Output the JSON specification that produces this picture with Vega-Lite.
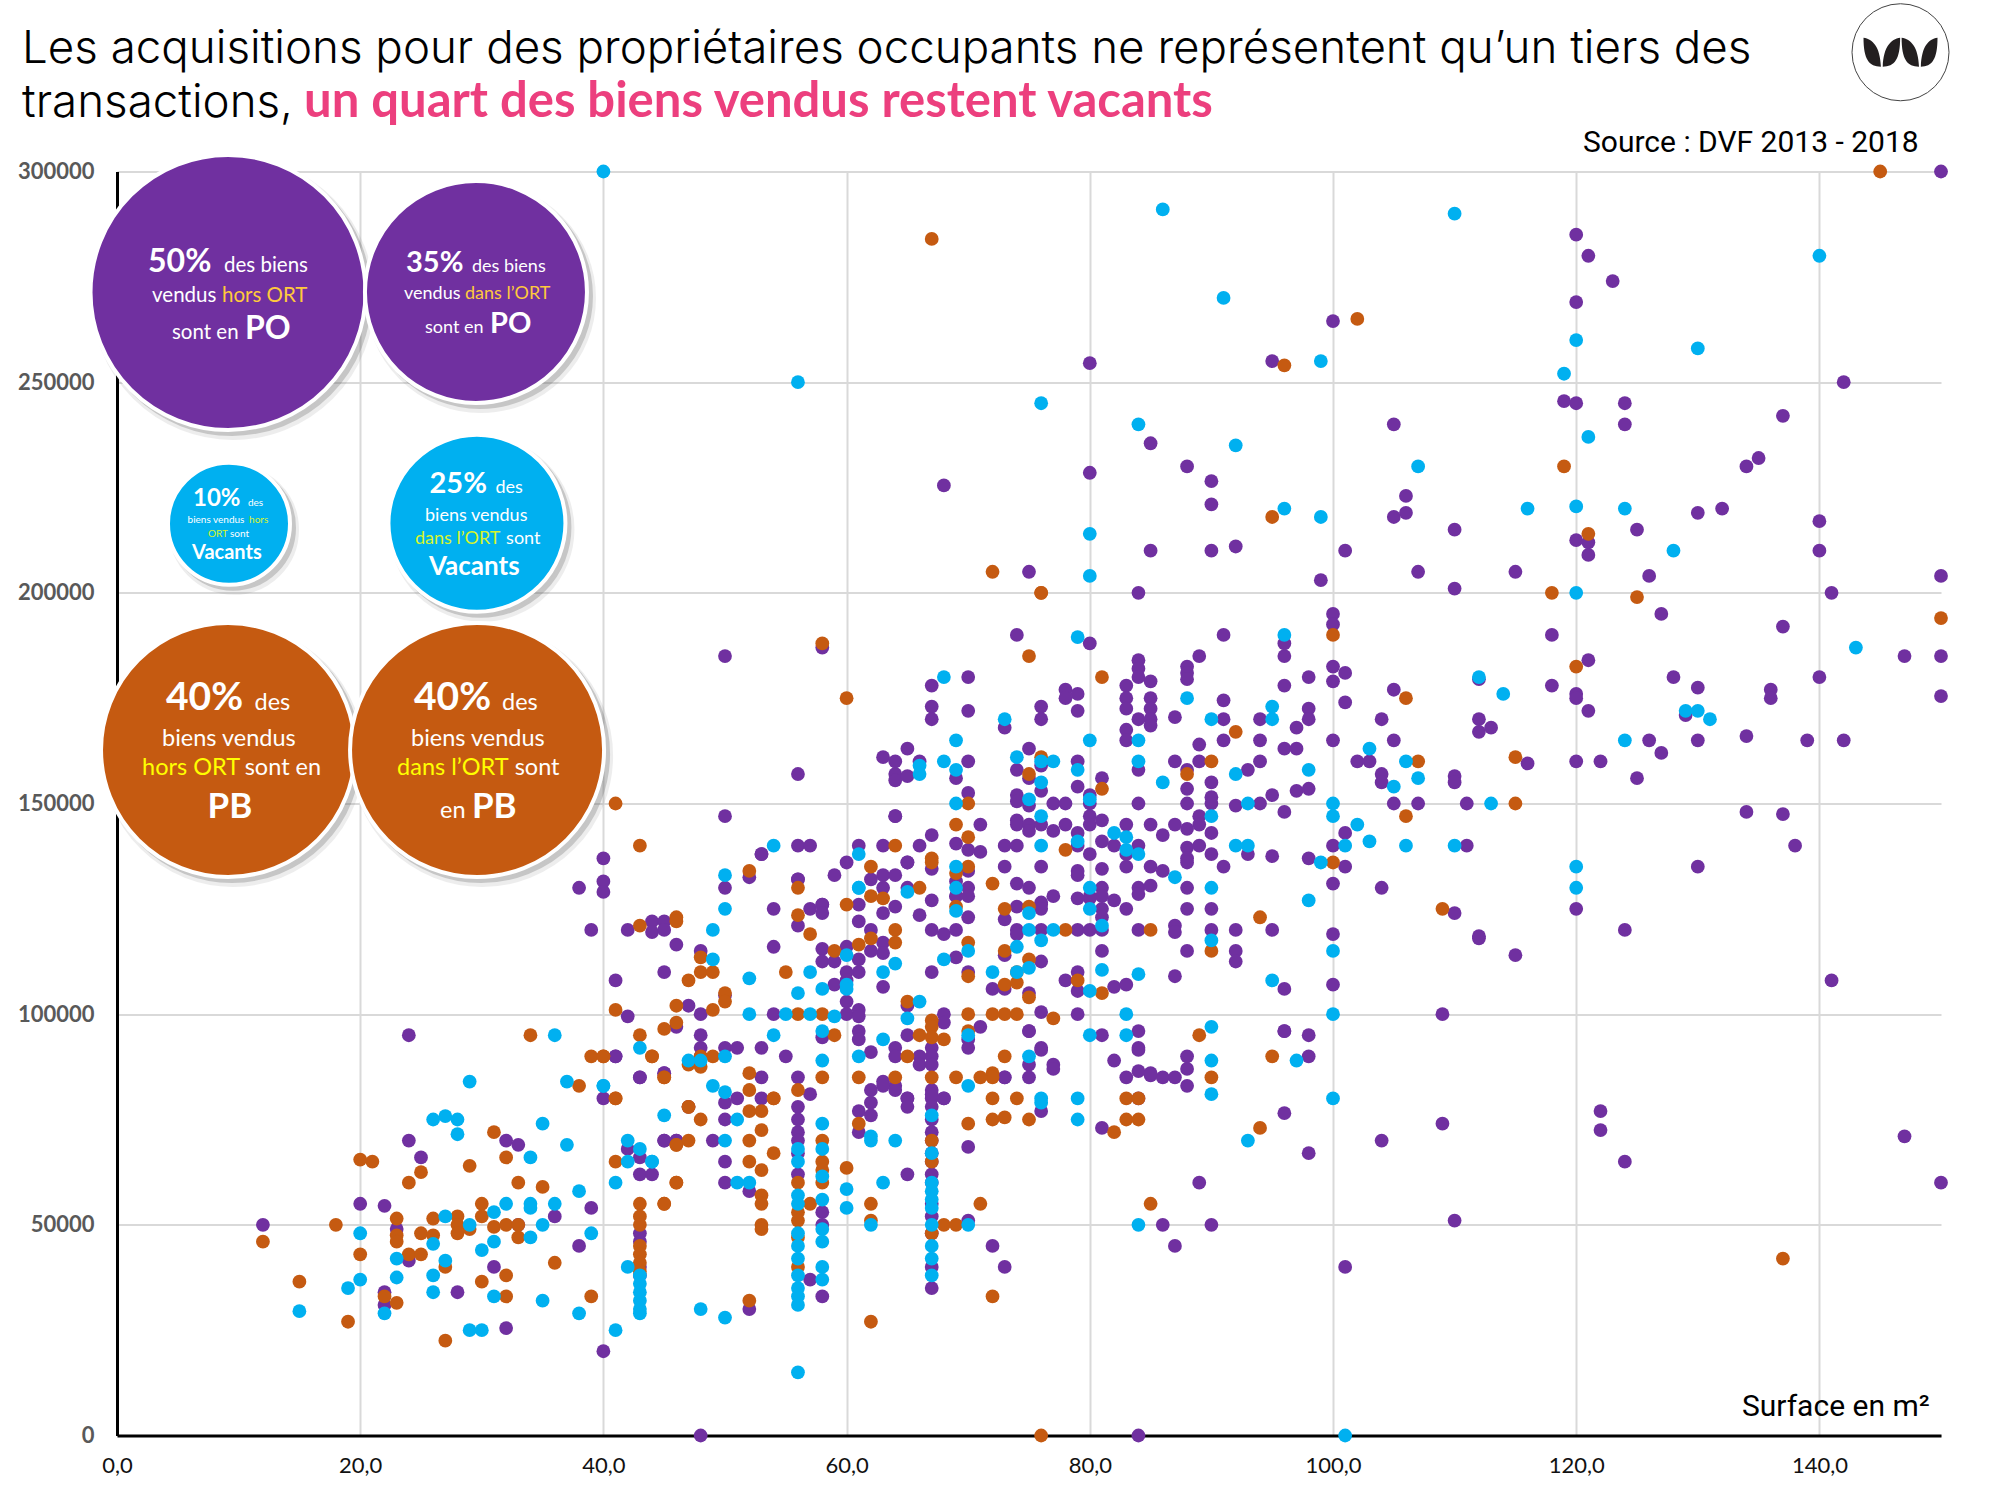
{"$schema":"https://vega.github.io/schema/vega-lite/v6.json","width":1824,"height":1264,"autosize":"none","padding":{"left":117,"top":171.5,"right":59,"bottom":64.5},"background":"white",
"datasets":{
"po":[{"x":74,"y":190000},{"x":80,"y":188000},{"x":58,"y":187000},{"x":70,"y":180000},{"x":67,"y":178000},{"x":67,"y":173000},{"x":67,"y":170000},{"x":70,"y":172000},{"x":78,"y":177000},{"x":78,"y":175000},{"x":79,"y":176000},{"x":79,"y":172000},{"x":76,"y":173000},{"x":76,"y":170000},{"x":73,"y":168000},{"x":84,"y":184000},{"x":84,"y":182000},{"x":84,"y":180000},{"x":83,"y":178000},{"x":83,"y":175000},{"x":83,"y":172500},{"x":84,"y":170000},{"x":83,"y":167500},{"x":83,"y":165000},{"x":85,"y":175000},{"x":85,"y":179000},{"x":85,"y":172500},{"x":85,"y":170000},{"x":85,"y":168500},{"x":75,"y":163000},{"x":63,"y":161000},{"x":64,"y":160000},{"x":65,"y":163000},{"x":66,"y":160000},{"x":64,"y":157000},{"x":64,"y":155500},{"x":65,"y":156500},{"x":70,"y":160000},{"x":69,"y":156000},{"x":74,"y":158000},{"x":75,"y":156000},{"x":76,"y":159000},{"x":76,"y":153000},{"x":79,"y":160000},{"x":81,"y":156000},{"x":79,"y":154000},{"x":70,"y":152500},{"x":74,"y":152000},{"x":74,"y":150500},{"x":75,"y":149500},{"x":77,"y":150000},{"x":78,"y":150000},{"x":80,"y":152000},{"x":80,"y":150000},{"x":84,"y":158000},{"x":84,"y":150000},{"x":56,"y":157000},{"x":64,"y":147000},{"x":71,"y":145000},{"x":74,"y":146000},{"x":74,"y":145000},{"x":75,"y":145000},{"x":75,"y":143500},{"x":76,"y":145000},{"x":77,"y":143500},{"x":78,"y":145000},{"x":80,"y":147000},{"x":80,"y":145000},{"x":81,"y":146000},{"x":79,"y":143000},{"x":79,"y":140000},{"x":81,"y":141000},{"x":83,"y":145000},{"x":82,"y":140000},{"x":84,"y":140000},{"x":85,"y":145000},{"x":67,"y":142500},{"x":69,"y":140500},{"x":70,"y":139000},{"x":71,"y":138500},{"x":73,"y":140000},{"x":74,"y":140000},{"x":53,"y":138000},{"x":56,"y":140000},{"x":57,"y":140000},{"x":61,"y":140000},{"x":63,"y":140000},{"x":66,"y":140000},{"x":80,"y":138000},{"x":83,"y":138000},{"x":60,"y":136000},{"x":65,"y":136000},{"x":67,"y":134500},{"x":70,"y":134000},{"x":73,"y":135000},{"x":76,"y":135000},{"x":79,"y":134000},{"x":79,"y":133000},{"x":81,"y":134500},{"x":83,"y":135000},{"x":85,"y":135000},{"x":59,"y":133000},{"x":62,"y":132000},{"x":63,"y":133000},{"x":63,"y":130000},{"x":64,"y":133000},{"x":56,"y":132000},{"x":74,"y":131000},{"x":75,"y":130000},{"x":70,"y":130000},{"x":69,"y":131500},{"x":81,"y":130000},{"x":84,"y":130000},{"x":85,"y":130500},{"x":65,"y":130000},{"x":80,"y":128000},{"x":77,"y":128000},{"x":76,"y":126500},{"x":82,"y":127000},{"x":67,"y":127000},{"x":69,"y":128000},{"x":70,"y":128000},{"x":58,"y":126000},{"x":61,"y":126000},
{"x":89,"y":185000},{"x":96,"y":185000},{"x":88,"y":182500},{"x":88,"y":181000},{"x":88,"y":179500},{"x":100,"y":182500},{"x":101,"y":181000},{"x":100,"y":179000},{"x":96,"y":178000},{"x":98,"y":180000},{"x":87,"y":170500},{"x":91,"y":174500},{"x":91,"y":170000},{"x":94,"y":170000},{"x":98,"y":172500},{"x":98,"y":170000},{"x":97,"y":168000},{"x":101,"y":174000},{"x":105,"y":177000},{"x":104,"y":170000},{"x":105,"y":165000},{"x":112,"y":179500},{"x":112,"y":170000},{"x":112,"y":167000},{"x":113,"y":168000},{"x":91,"y":165000},{"x":94,"y":165000},{"x":100,"y":165000},{"x":89,"y":164000},{"x":96,"y":163000},{"x":97,"y":163000},{"x":87,"y":160000},{"x":89,"y":160000},{"x":94,"y":160000},{"x":93,"y":158000},{"x":88,"y":158000},{"x":102,"y":160000},{"x":103,"y":160000},{"x":104,"y":157000},{"x":104,"y":155000},{"x":110,"y":156500},{"x":110,"y":155000},{"x":90,"y":155000},{"x":88,"y":153500},{"x":90,"y":151500},{"x":90,"y":150000},{"x":88,"y":150000},{"x":92,"y":149500},{"x":94,"y":150000},{"x":95,"y":152000},{"x":97,"y":153000},{"x":98,"y":153500},{"x":96,"y":148000},{"x":105,"y":150000},{"x":107,"y":150000},{"x":111,"y":150000},{"x":89,"y":147000},{"x":89,"y":145000},{"x":87,"y":145000},{"x":88,"y":144000},{"x":90,"y":143000},{"x":86,"y":142500},{"x":101,"y":143000},{"x":100,"y":140000},{"x":111,"y":140000},{"x":88,"y":139500},{"x":89,"y":140000},{"x":90,"y":138000},{"x":93,"y":138000},{"x":95,"y":137500},{"x":98,"y":137000},{"x":88,"y":137000},{"x":88,"y":136000},{"x":86,"y":134000},{"x":91,"y":135000},{"x":101,"y":135000},{"x":100,"y":131000},{"x":104,"y":130000},{"x":88,"y":130000},{"x":84,"y":128500},{"x":81,"y":128000},{"x":80,"y":127500},{"x":79,"y":127500},{"x":81,"y":125000},{"x":81,"y":123000},{"x":83,"y":125000},{"x":76,"y":126000},{"x":76,"y":125000},{"x":74,"y":125500},{"x":88,"y":125000},{"x":90,"y":125000},{"x":87,"y":121000},{"x":87,"y":119500},{"x":90,"y":120000},{"x":92,"y":120000},{"x":95,"y":120000},{"x":100,"y":119000},{"x":112,"y":118500},{"x":84,"y":120000},{"x":79,"y":120000},{"x":80,"y":120000},{"x":81,"y":120000},{"x":76,"y":120000},{"x":74,"y":120000},{"x":74,"y":119000},{"x":73,"y":122500},{"x":81,"y":115000},{"x":88,"y":115000},{"x":92,"y":115000},{"x":92,"y":112500},{"x":76,"y":112500},{"x":73,"y":114000},{"x":79,"y":110000},{"x":79,"y":105500},{"x":78,"y":108000},{"x":87,"y":109000},{"x":82,"y":106500},{"x":83,"y":107000},{"x":96,"y":106000},{"x":100,"y":107000},{"x":75,"y":105000},{"x":76,"y":100500},{"x":79,"y":100000},{"x":109,"y":100000},{"x":75,"y":96000},{"x":81,"y":95000},{"x":84,"y":96000},{"x":96,"y":96000},{"x":98,"y":95000},{"x":76,"y":92000},{"x":84,"y":92000},
{"x":105,"y":240000},{"x":85,"y":235500},{"x":88,"y":230000},{"x":90,"y":226500},{"x":90,"y":221000},{"x":106,"y":223000},{"x":106,"y":219000},{"x":105,"y":218000},{"x":110,"y":215000},{"x":80,"y":228500},{"x":85,"y":210000},{"x":90,"y":210000},{"x":92,"y":211000},{"x":101,"y":210000},{"x":99,"y":203000},{"x":107,"y":205000},{"x":110,"y":201000},{"x":75,"y":205000},{"x":84,"y":200000},{"x":100,"y":195000},{"x":100,"y":192500},{"x":91,"y":190000},{"x":96,"y":188000},{"x":119,"y":245500},{"x":120,"y":245000},{"x":124,"y":245000},{"x":124,"y":240000},{"x":137,"y":242000},{"x":135,"y":232000},{"x":134,"y":230000},{"x":132,"y":220000},{"x":130,"y":219000},{"x":140,"y":217000},{"x":120,"y":212500},{"x":121,"y":212000},{"x":121,"y":209000},{"x":125,"y":215000},{"x":140,"y":210000},{"x":115,"y":205000},{"x":126,"y":204000},{"x":150,"y":204000},{"x":141,"y":200000},{"x":127,"y":195000},{"x":137,"y":192000},{"x":118,"y":190000},{"x":121,"y":184000},{"x":128,"y":180000},{"x":140,"y":180000},{"x":118,"y":178000},{"x":130,"y":177500},{"x":120,"y":176000},{"x":120,"y":175000},{"x":136,"y":177000},{"x":136,"y":175000},{"x":121,"y":172000},{"x":150,"y":185000},{"x":147,"y":185000},{"x":150,"y":175500},{"x":129,"y":171000},{"x":134,"y":166000},{"x":130,"y":165000},{"x":126,"y":165000},{"x":139,"y":165000},{"x":142,"y":165000},{"x":127,"y":162000},{"x":116,"y":159500},{"x":120,"y":160000},{"x":122,"y":160000},{"x":125,"y":156000},{"x":134,"y":148000},{"x":137,"y":147500},{"x":138,"y":140000},{"x":130,"y":135000},
{"x":96,"y":96000},{"x":84,"y":91500},{"x":82,"y":89000},{"x":88,"y":90000},{"x":88,"y":87000},{"x":88,"y":83000},{"x":83,"y":85000},{"x":84,"y":86500},{"x":85,"y":85500},{"x":86,"y":85000},{"x":84,"y":80000},{"x":81,"y":73000},{"x":98,"y":90000},{"x":96,"y":76500},{"x":98,"y":67000},{"x":109,"y":74000},{"x":104,"y":70000},{"x":89,"y":60000},{"x":86,"y":50000},{"x":90,"y":50000},{"x":87,"y":45000},{"x":101,"y":40000},{"x":110,"y":51000},
{"x":150,"y":300000},{"x":120,"y":285000},{"x":121,"y":280000},{"x":123,"y":274000},{"x":120,"y":269000},{"x":100,"y":264500},{"x":80,"y":254500},{"x":95,"y":255000},{"x":142,"y":250000},{"x":68,"y":225500},{"x":141,"y":108000},{"x":122,"y":77000},{"x":122,"y":72500},{"x":124,"y":65000},{"x":150,"y":60000},{"x":147,"y":71000},{"x":115,"y":114000},{"x":112,"y":118000},{"x":110,"y":124000},{"x":120,"y":125000},{"x":124,"y":120000},{"x":50,"y":185000},{"x":40,"y":20000},{"x":24,"y":95000},
{"x":50,"y":147000},{"x":40,"y":137000},{"x":40,"y":131500},{"x":40,"y":129000},{"x":38,"y":130000},{"x":39,"y":120000},{"x":64,"y":147000},{"x":53,"y":138000},{"x":65,"y":136000},{"x":52,"y":132500},{"x":56,"y":132000},{"x":50,"y":130000},{"x":69,"y":128000},{"x":54,"y":125000},{"x":57,"y":125000},{"x":58,"y":126000},{"x":58,"y":124000},{"x":64,"y":125500},{"x":63,"y":124000},{"x":66,"y":123500},{"x":70,"y":123000},{"x":44,"y":122000},{"x":44,"y":119500},{"x":45,"y":122000},{"x":45,"y":120000},{"x":42,"y":120000},{"x":56,"y":121000},{"x":61,"y":122000},{"x":62,"y":120000},{"x":63,"y":117000},{"x":63,"y":114500},{"x":67,"y":120000},{"x":68,"y":119000},{"x":69,"y":120000},{"x":46,"y":116500},{"x":48,"y":115000},{"x":54,"y":116000},{"x":58,"y":115500},{"x":58,"y":112500},{"x":59,"y":112500},{"x":60,"y":116000},{"x":61,"y":113000},{"x":61,"y":110000},{"x":62,"y":115000},{"x":69,"y":113500},{"x":70,"y":110000},{"x":67,"y":110000},{"x":45,"y":110000},{"x":41,"y":108000},{"x":60,"y":110000},{"x":60,"y":108000},{"x":59,"y":107000},{"x":63,"y":106500},{"x":72,"y":106000},{"x":73,"y":106000},{"x":47,"y":102000},{"x":48,"y":100000},{"x":42,"y":99500},{"x":50,"y":104500},{"x":60,"y":103000},{"x":60,"y":100000},{"x":61,"y":101000},{"x":61,"y":99500},{"x":54,"y":100000},{"x":68,"y":100000},{"x":68,"y":98000},{"x":65,"y":102000},{"x":46,"y":97000},{"x":48,"y":95000},{"x":61,"y":96000},{"x":61,"y":94000},{"x":58,"y":94500},{"x":65,"y":95000},{"x":71,"y":97000},{"x":75,"y":96000},{"x":48,"y":92000},{"x":50,"y":92000},{"x":51,"y":92000},{"x":53,"y":92000},{"x":62,"y":91000},{"x":64,"y":92000},{"x":67,"y":92000},{"x":67,"y":90000},{"x":66,"y":90000},{"x":70,"y":94000},{"x":70,"y":92000},{"x":76,"y":91500},{"x":41,"y":90000},{"x":55,"y":90000},{"x":48,"y":90000},{"x":75,"y":88000},{"x":77,"y":88000},{"x":43,"y":85000},{"x":45,"y":86000},{"x":53,"y":85000},{"x":56,"y":85000},{"x":63,"y":84000},{"x":64,"y":83000},{"x":73,"y":85000},{"x":62,"y":82000},{"x":57,"y":81000},{"x":65,"y":80000},{"x":67,"y":82000},{"x":67,"y":80000},{"x":68,"y":80000},
{"x":50,"y":79000},{"x":51,"y":80000},{"x":53,"y":80000},{"x":56,"y":78000},{"x":47,"y":78000},{"x":50,"y":75000},{"x":45,"y":70000},{"x":46,"y":70000},{"x":49,"y":70000},{"x":50,"y":65000},{"x":56,"y":72000},{"x":56,"y":70000},{"x":43,"y":62000},{"x":44,"y":62000},{"x":50,"y":60000},{"x":52,"y":58000},{"x":56,"y":62000},{"x":56,"y":67000},{"x":56,"y":75000},{"x":58,"y":53000},{"x":58,"y":50000},{"x":57,"y":37000},{"x":58,"y":33000},{"x":52,"y":30000},{"x":48,"y":0},{"x":84,"y":0},{"x":61,"y":77000},{"x":62,"y":76000},{"x":61,"y":72000},{"x":62,"y":79000},{"x":63,"y":83000},{"x":64,"y":82000},{"x":65,"y":80000},{"x":65,"y":78000},{"x":65,"y":62000},{"x":67,"y":81000},{"x":67,"y":78000},{"x":67,"y":75000},{"x":67,"y":72000},{"x":67,"y":70000},{"x":67,"y":67000},{"x":67,"y":65000},{"x":67,"y":62000},{"x":67,"y":60000},{"x":67,"y":55000},{"x":67,"y":52000},{"x":67,"y":48000},{"x":68,"y":80000},{"x":64,"y":90000},{"x":66,"y":88000},{"x":67,"y":88000},{"x":70,"y":68500},{"x":70,"y":51000},{"x":72,"y":45000},{"x":73,"y":40000},{"x":67,"y":40000},{"x":67,"y":35000},{"x":73,"y":85000},{"x":76,"y":77000},{"x":75,"y":85000},{"x":77,"y":87000},{"x":85,"y":86000},{"x":87,"y":85000},
{"x":12,"y":50000},{"x":20,"y":55000},{"x":22,"y":54500},{"x":23,"y":49000},{"x":24,"y":70000},{"x":25,"y":66000},{"x":32,"y":70000},{"x":33,"y":69000},{"x":31,"y":40000},{"x":28,"y":34000},{"x":32,"y":25500},{"x":39,"y":54000},{"x":36,"y":52000},{"x":38,"y":45000},{"x":22,"y":34000},{"x":22,"y":31000},{"x":24,"y":41500},{"x":40,"y":80000},{"x":41,"y":90000},{"x":43,"y":85000},{"x":45,"y":86000},{"x":42,"y":68000},{"x":43,"y":66000},{"x":45,"y":70000},{"x":46,"y":70000},{"x":33,"y":50000},{"x":43,"y":48000},{"x":43,"y":46000},{"x":43,"y":40000},{"x":43,"y":38000}],
"pb":[{"x":145,"y":300000},{"x":67,"y":284000},{"x":102,"y":265000},{"x":96,"y":254000},{"x":72,"y":205000},{"x":76,"y":200000},{"x":75,"y":185000},{"x":58,"y":188000},{"x":60,"y":175000},{"x":81,"y":180000},{"x":76,"y":161000},{"x":75,"y":157000},{"x":81,"y":153500},{"x":70,"y":150000},{"x":69,"y":145000},{"x":70,"y":142000},{"x":64,"y":140000},{"x":78,"y":139000},{"x":62,"y":135000},{"x":67,"y":137000},{"x":67,"y":136000},{"x":70,"y":135000},{"x":69,"y":133500},{"x":56,"y":130000},{"x":66,"y":130000},{"x":72,"y":131000},{"x":52,"y":134000},{"x":62,"y":128000},{"x":63,"y":127500},{"x":60,"y":126000},{"x":106,"y":175000},{"x":92,"y":167000},{"x":90,"y":160000},{"x":88,"y":157000},{"x":107,"y":160000},{"x":106,"y":147000},{"x":100,"y":136000},{"x":109,"y":125000},{"x":94,"y":123000},{"x":73,"y":125000},{"x":75,"y":125500},{"x":78,"y":120000},{"x":85,"y":120000},{"x":73,"y":115000},{"x":75,"y":113000},{"x":90,"y":115000},{"x":74,"y":110000},{"x":79,"y":108000},{"x":73,"y":107000},{"x":74,"y":107500},{"x":81,"y":105000},{"x":75,"y":104000},{"x":73,"y":100000},{"x":74,"y":100000},{"x":77,"y":99000},{"x":89,"y":95000},{"x":95,"y":218000},{"x":76,"y":200000},{"x":100,"y":190000},{"x":119,"y":230000},{"x":121,"y":214000},{"x":118,"y":200000},{"x":125,"y":199000},{"x":150,"y":194000},{"x":120,"y":182500},{"x":115,"y":161000},{"x":115,"y":150000},{"x":137,"y":42000},{"x":83,"y":80000},{"x":83,"y":75000},{"x":82,"y":72000},{"x":95,"y":90000},{"x":94,"y":73000},{"x":85,"y":55000},{"x":90,"y":85000},
{"x":41,"y":150000},{"x":43,"y":140000},{"x":46,"y":123000},{"x":46,"y":122000},{"x":43,"y":121000},{"x":56,"y":123500},{"x":57,"y":119000},{"x":50,"y":105000},{"x":50,"y":103000},{"x":48,"y":113500},{"x":48,"y":110000},{"x":49,"y":110000},{"x":47,"y":108000},{"x":55,"y":110000},{"x":61,"y":116500},{"x":62,"y":118000},{"x":59,"y":115000},{"x":64,"y":120000},{"x":64,"y":117000},{"x":69,"y":125500},{"x":70,"y":117000},{"x":70,"y":109000},{"x":41,"y":101000},{"x":46,"y":102000},{"x":49,"y":101000},{"x":65,"y":103000},{"x":70,"y":100000},{"x":72,"y":100000},{"x":56,"y":100000},{"x":58,"y":100000},{"x":46,"y":98000},{"x":45,"y":96500},{"x":43,"y":95000},{"x":59,"y":95000},{"x":66,"y":95000},{"x":67,"y":98500},{"x":67,"y":97000},{"x":67,"y":94500},{"x":68,"y":94000},{"x":70,"y":96000},{"x":40,"y":90000},{"x":44,"y":90000},{"x":49,"y":90000},{"x":48,"y":87500},{"x":65,"y":90000},{"x":73,"y":90000},{"x":45,"y":85000},{"x":52,"y":86000},{"x":58,"y":85000},{"x":61,"y":85000},{"x":64,"y":85000},{"x":67,"y":85000},{"x":69,"y":85000},{"x":72,"y":86000},{"x":72,"y":85000},{"x":52,"y":82000},{"x":56,"y":82000},{"x":41,"y":80000},{"x":72,"y":80000},{"x":74,"y":80000},{"x":54,"y":80000},
{"x":47,"y":88000},{"x":48,"y":90000},{"x":54,"y":80000},{"x":52,"y":77000},{"x":53,"y":77000},{"x":47,"y":78000},{"x":48,"y":75000},{"x":53,"y":72500},{"x":52,"y":70000},{"x":47,"y":70000},{"x":46,"y":69000},{"x":54,"y":67000},{"x":52,"y":65000},{"x":53,"y":63000},{"x":46,"y":60000},{"x":45,"y":55000},{"x":53,"y":57000},{"x":53,"y":55000},{"x":53,"y":50000},{"x":53,"y":49000},{"x":71,"y":85000},{"x":61,"y":74000},{"x":56,"y":60000},{"x":56,"y":53000},{"x":56,"y":51000},{"x":56,"y":47000},{"x":56,"y":40000},{"x":57,"y":55000},{"x":58,"y":70000},{"x":58,"y":65000},{"x":58,"y":63000},{"x":58,"y":60000},{"x":60,"y":63500},{"x":62,"y":55000},{"x":62,"y":51000},{"x":67,"y":70000},{"x":67,"y":65000},{"x":67,"y":48000},{"x":68,"y":50000},{"x":69,"y":50000},{"x":71,"y":55000},{"x":72,"y":33000},{"x":52,"y":32000},{"x":62,"y":27000},{"x":76,"y":0},{"x":72,"y":75000},{"x":73,"y":75500},{"x":75,"y":75000},{"x":70,"y":74000},{"x":84,"y":80000},{"x":84,"y":75000},
{"x":12,"y":46000},{"x":18,"y":50000},{"x":15,"y":36500},{"x":20,"y":65500},{"x":21,"y":65000},{"x":19,"y":27000},{"x":20,"y":43000},{"x":23,"y":51500},{"x":23,"y":47500},{"x":23,"y":46000},{"x":24,"y":60000},{"x":25,"y":62500},{"x":24,"y":43000},{"x":25,"y":43000},{"x":22,"y":33000},{"x":23,"y":31500},{"x":25,"y":48000},{"x":26,"y":51500},{"x":26,"y":47500},{"x":28,"y":52000},{"x":28,"y":50000},{"x":28,"y":48000},{"x":29,"y":49000},{"x":29,"y":64000},{"x":27,"y":40000},{"x":27,"y":22500},{"x":30,"y":55000},{"x":30,"y":52000},{"x":31,"y":49500},{"x":31,"y":72000},{"x":32,"y":66000},{"x":32,"y":50000},{"x":33,"y":50000},{"x":33,"y":47000},{"x":33,"y":60000},{"x":35,"y":59000},{"x":30,"y":36500},{"x":32,"y":38000},{"x":32,"y":33000},{"x":36,"y":41000},{"x":39,"y":33000},{"x":38,"y":83000},{"x":39,"y":90000},{"x":40,"y":90000},{"x":41,"y":80000},{"x":44,"y":90000},{"x":45,"y":85000},{"x":41,"y":65000},{"x":43,"y":55000},{"x":45,"y":55000},{"x":46,"y":69000},{"x":46,"y":60000},{"x":47,"y":78000},{"x":43,"y":52000},{"x":43,"y":50000},{"x":43,"y":45000},{"x":43,"y":43000},{"x":43,"y":41000},{"x":43,"y":39000},{"x":34,"y":95000}],
"vac":[{"x":40,"y":300000},{"x":86,"y":291000},{"x":110,"y":290000},{"x":140,"y":280000},{"x":120,"y":260000},{"x":91,"y":270000},{"x":99,"y":255000},{"x":130,"y":258000},{"x":119,"y":252000},{"x":56,"y":250000},{"x":76,"y":245000},{"x":84,"y":240000},{"x":121,"y":237000},{"x":92,"y":235000},{"x":107,"y":230000},{"x":96,"y":220000},{"x":99,"y":218000},{"x":80,"y":214000},{"x":80,"y":204000},{"x":79,"y":189500},{"x":96,"y":190000},{"x":88,"y":175000},{"x":112,"y":180000},{"x":116,"y":220000},{"x":120,"y":220500},{"x":124,"y":220000},{"x":128,"y":210000},{"x":120,"y":200000},{"x":143,"y":187000},{"x":114,"y":176000},{"x":129,"y":172000},{"x":130,"y":172000},{"x":131,"y":170000},{"x":124,"y":165000},{"x":113,"y":150000},{"x":110,"y":140000},{"x":120,"y":135000},{"x":120,"y":130000},
{"x":54,"y":140000},{"x":68,"y":180000},{"x":73,"y":170000},{"x":69,"y":165000},{"x":80,"y":165000},{"x":68,"y":160000},{"x":66,"y":159000},{"x":66,"y":157000},{"x":69,"y":158000},{"x":74,"y":161000},{"x":76,"y":160000},{"x":77,"y":160000},{"x":79,"y":158000},{"x":76,"y":155000},{"x":75,"y":151000},{"x":80,"y":151000},{"x":69,"y":150000},{"x":76,"y":147000},{"x":84,"y":165000},{"x":84,"y":160000},{"x":61,"y":138000},{"x":76,"y":140000},{"x":79,"y":141000},{"x":82,"y":143000},{"x":83,"y":142000},{"x":83,"y":139000},{"x":84,"y":138000},{"x":69,"y":135000},{"x":61,"y":130000},{"x":65,"y":129000},{"x":69,"y":130000},{"x":80,"y":130000},
{"x":90,"y":170000},{"x":95,"y":173000},{"x":95,"y":170000},{"x":103,"y":163000},{"x":106,"y":160000},{"x":107,"y":156000},{"x":105,"y":154000},{"x":86,"y":155000},{"x":92,"y":157000},{"x":98,"y":158000},{"x":93,"y":150000},{"x":100,"y":150000},{"x":100,"y":147000},{"x":90,"y":147000},{"x":102,"y":145000},{"x":92,"y":140000},{"x":93,"y":140000},{"x":101,"y":140000},{"x":103,"y":141000},{"x":106,"y":140000},{"x":99,"y":136000},{"x":87,"y":132500},{"x":90,"y":130000},{"x":98,"y":127000},{"x":80,"y":125000},{"x":75,"y":124000},{"x":81,"y":121000},{"x":75,"y":120000},{"x":77,"y":120000},{"x":76,"y":117500},{"x":90,"y":117500},{"x":74,"y":116000},{"x":100,"y":115000},{"x":75,"y":111000},{"x":74,"y":110000},{"x":81,"y":110500},{"x":84,"y":109500},{"x":95,"y":108000},{"x":80,"y":105500},{"x":83,"y":100000},{"x":100,"y":100000},{"x":90,"y":97000},{"x":80,"y":95000},{"x":83,"y":95000},{"x":90,"y":89000},{"x":90,"y":81000},{"x":97,"y":89000},{"x":100,"y":80000},{"x":93,"y":70000},{"x":84,"y":50000},
{"x":50,"y":133000},{"x":50,"y":125000},{"x":49,"y":120000},{"x":61,"y":130000},{"x":69,"y":124500},{"x":70,"y":115000},{"x":60,"y":114000},{"x":64,"y":112000},{"x":63,"y":110000},{"x":49,"y":113000},{"x":57,"y":110000},{"x":52,"y":108500},{"x":68,"y":113000},{"x":72,"y":110000},{"x":60,"y":107000},{"x":60,"y":106000},{"x":56,"y":105000},{"x":58,"y":106000},{"x":66,"y":103000},{"x":52,"y":100000},{"x":55,"y":100000},{"x":57,"y":100000},{"x":59,"y":99500},{"x":65,"y":99000},{"x":70,"y":95000},{"x":54,"y":95000},{"x":58,"y":96000},{"x":63,"y":94000},{"x":43,"y":92000},{"x":48,"y":89000},{"x":50,"y":90000},{"x":58,"y":89000},{"x":61,"y":90000},{"x":75,"y":90000},{"x":40,"y":83000},{"x":49,"y":83000},{"x":50,"y":81500},{"x":70,"y":83000},{"x":76,"y":80000},{"x":79,"y":80000},{"x":47,"y":89000},
{"x":76,"y":79000},{"x":79,"y":75000},{"x":51,"y":75000},{"x":45,"y":76000},{"x":50,"y":70000},{"x":58,"y":74000},{"x":56,"y":68000},{"x":56,"y":65000},{"x":58,"y":68000},{"x":58,"y":61500},{"x":58,"y":56000},{"x":44,"y":65000},{"x":51,"y":60000},{"x":52,"y":60000},{"x":56,"y":57000},{"x":56,"y":55000},{"x":60,"y":58500},{"x":60,"y":54000},{"x":63,"y":60000},{"x":64,"y":70000},{"x":62,"y":71000},{"x":62,"y":70000},{"x":67,"y":76000},{"x":67,"y":67000},{"x":67,"y":60000},{"x":67,"y":58000},{"x":67,"y":56000},{"x":67,"y":54000},{"x":67,"y":50000},{"x":70,"y":50000},{"x":62,"y":50000},{"x":58,"y":49000},{"x":58,"y":46000},{"x":56,"y":48000},{"x":56,"y":45000},{"x":56,"y":42000},{"x":58,"y":40000},{"x":58,"y":37000},{"x":56,"y":38000},{"x":56,"y":35000},{"x":56,"y":33000},{"x":56,"y":31000},{"x":67,"y":45000},{"x":67,"y":42000},{"x":67,"y":38000},{"x":48,"y":30000},{"x":50,"y":28000},{"x":56,"y":15000},{"x":101,"y":0},
{"x":29,"y":84000},{"x":36,"y":95000},{"x":26,"y":75000},{"x":27,"y":75800},{"x":28,"y":75000},{"x":28,"y":71500},{"x":35,"y":74000},{"x":37,"y":84000},{"x":40,"y":83000},{"x":37,"y":69000},{"x":34,"y":66000},{"x":42,"y":70000},{"x":43,"y":68000},{"x":42,"y":65000},{"x":44,"y":65000},{"x":41,"y":60000},{"x":38,"y":58000},{"x":32,"y":55000},{"x":34,"y":55000},{"x":34,"y":54000},{"x":36,"y":55000},{"x":31,"y":53000},{"x":27,"y":52000},{"x":29,"y":50000},{"x":35,"y":50000},{"x":39,"y":48000},{"x":34,"y":47000},{"x":31,"y":46000},{"x":30,"y":44000},{"x":26,"y":45500},{"x":20,"y":48000},{"x":23,"y":42000},{"x":27,"y":41500},{"x":26,"y":38000},{"x":23,"y":37500},{"x":20,"y":37000},{"x":19,"y":35000},{"x":15,"y":29500},{"x":22,"y":29000},{"x":26,"y":34000},{"x":31,"y":33000},{"x":35,"y":32000},{"x":38,"y":29000},{"x":29,"y":25000},{"x":30,"y":25000},{"x":41,"y":25000},{"x":42,"y":40000},{"x":43,"y":38000},{"x":43,"y":36000},{"x":43,"y":34000},{"x":43,"y":32000},{"x":43,"y":30000},{"x":43,"y":29000}],
"bulles":[{"serie":"PO","x":9.13,"y":271300,"pct":50},{"serie":"PO","x":29.52,"y":271400,"pct":35},{"serie":"Vacants","x":9.21,"y":216400,"pct":10},{"serie":"Vacants","x":29.6,"y":216500,"pct":25},{"serie":"PB","x":9.13,"y":162700,"pct":40},{"serie":"PB","x":29.61,"y":162700,"pct":40}],
"texteNormal":[{"t":"des biens","x":8.8,"y":276150,"ton":"blanc","n":"c1"},{"t":"vendus","x":2.88,"y":269030,"ton":"blanc","n":"c1"},{"t":"hors ORT","x":8.63,"y":269030,"ton":"or","n":"c1"},{"t":"sont en","x":4.52,"y":260240,"ton":"blanc","n":"c1"},
{"t":"des biens","x":29.19,"y":276150,"ton":"blanc","n":"c2"},{"t":"vendus","x":23.6,"y":269740,"ton":"blanc","n":"c2"},{"t":"dans l’ORT","x":28.62,"y":269740,"ton":"or","n":"c2"},{"t":"sont en","x":25.33,"y":261670,"ton":"blanc","n":"c2"},
{"t":"des","x":10.77,"y":220610,"ton":"blanc","n":"c3a"},{"t":"biens vendus","x":5.8,"y":216570,"ton":"blanc","n":"c3a"},{"t":"hors","x":10.86,"y":216570,"ton":"vert","n":"c3a"},{"t":"ORT","x":7.48,"y":213250,"ton":"vert","n":"c3a"},{"t":"sont","x":9.29,"y":213250,"ton":"blanc","n":"c3a"},
{"t":"des","x":31.13,"y":223690,"ton":"blanc","n":"c4"},{"t":"biens vendus","x":25.33,"y":217050,"ton":"blanc","n":"c4"},{"t":"dans l’ORT","x":24.51,"y":211590,"ton":"vert","n":"c4"},{"t":"sont","x":32,"y":211590,"ton":"blanc","n":"c4"},
{"t":"des","x":11.31,"y":172190,"ton":"blanc","n":"c5"},{"t":"biens vendus","x":3.7,"y":163650,"ton":"blanc","n":"c5"},{"t":"hors ORT","x":2.06,"y":156760,"ton":"jaune","n":"c5"},{"t":"sont en","x":10.5,"y":156760,"ton":"blanc","n":"c5"},
{"t":"des","x":31.66,"y":172190,"ton":"blanc","n":"c5"},{"t":"biens vendus","x":24.18,"y":163650,"ton":"blanc","n":"c5"},{"t":"dans l’ORT","x":23.03,"y":156760,"ton":"jaune","n":"c5"},{"t":"sont","x":32.7,"y":156760,"ton":"blanc","n":"c5"},{"t":"en","x":26.56,"y":146560,"ton":"blanc","n":"c5"}],
"texteGras":[{"t":"50%","x":2.55,"y":276150,"n":"g32"},{"t":"PO","x":10.53,"y":260240,"n":"g32"},{"t":"35%","x":23.77,"y":276150,"n":"g28"},{"t":"PO","x":30.67,"y":261670,"n":"g28"},{"t":"10%","x":6.25,"y":220610,"n":"g24"},{"t":"Vacants","x":6.17,"y":208030,"n":"g20"},{"t":"25%","x":25.7,"y":223690,"n":"g28"},{"t":"Vacants","x":25.66,"y":204230,"n":"g26"},{"t":"40%","x":4.03,"y":172190,"n":"g39"},{"t":"PB","x":7.44,"y":146560,"n":"g35"},{"t":"40%","x":24.42,"y":172190,"n":"g39"},{"t":"PB","x":29.19,"y":146560,"n":"g35"}],
"titre":[{"t":"Les acquisitions pour des propriétaires occupants ne représentent qu’un tiers des","x":-7.81,"y":325750},{"t":"transactions,","x":-7.81,"y":312930}],
"titreRose":[{"t":"un quart des biens vendus restent vacants","x":15.38,"y":312930}],
"source":[{"t":"Source : DVF 2013 - 2018","x":120.56,"y":304620},{"t":"Surface en m²","x":133.63,"y":4630}],
"logo":[{"x":146.67,"y":328300}]},
"encoding":{"x":{"field":"x","type":"quantitative","title":null,"scale":{"domain":[0,150],"nice":false,"zero":false},"axis":{"values":[0,20,40,60,80,100,120,140],"grid":true,"gridColor":"#D9D9D9","gridWidth":2,"ticks":false,"domainColor":"#000000","domainWidth":3,"labelFont":"Lato","labelFontSize":22,"labelColor":"#111111","labelPadding":20,"labelFlush":false,"labelExpr":"replace(format(datum.value,'.1f'),'.',',')"}},
"y":{"field":"y","type":"quantitative","title":null,"scale":{"domain":[0,300000],"nice":false,"zero":false},"axis":{"values":[0,50000,100000,150000,200000,250000,300000],"format":"d","grid":true,"gridColor":"#D9D9D9","gridWidth":2,"ticks":false,"domainColor":"#000000","domainWidth":3,"labelFont":"Lato","labelFontSize":22,"labelFontWeight":"bold","labelColor":"#595959","labelPadding":23}},
"text":{"field":"t"},"color":{"field":"ton","type":"nominal","legend":null,"scale":{"domain":["blanc","or","jaune","vert"],"range":["#FFFFFF","#FFC93C","#FFFF00","#D8F52A"]}}},
"layer":[
{"data":{"name":"po"},"mark":{"type":"circle","size":190,"color":"#7030A0","opacity":1},"encoding":{"color":{"value":"#7030A0"},"text":{"value":""}}},
{"data":{"name":"pb"},"mark":{"type":"circle","size":190,"color":"#C55A11","opacity":1},"encoding":{"color":{"value":"#C55A11"},"text":{"value":""}}},
{"data":{"name":"vac"},"mark":{"type":"circle","size":190,"color":"#00B0F0","opacity":1},"encoding":{"color":{"value":"#00B0F0"},"text":{"value":""}}},
{"data":{"name":"bulles"},"mark":{"type":"circle","opacity":0.1,"xOffset":5,"yOffset":6,"stroke":"#555555","strokeWidth":8},"encoding":{"color":{"value":"#555555"},"text":{"value":""},"size":{"field":"pct","type":"quantitative","legend":null,"scale":{"zero":false,"domain":[10,25,35,40,50],"range":[14884,31329,49284,64516,75625]}}}},
{"data":{"name":"bulles"},"mark":{"type":"circle","opacity":0.25,"xOffset":4,"yOffset":4,"stroke":"#555555","strokeWidth":4},"encoding":{"color":{"value":"#555555"},"text":{"value":""},"size":{"field":"pct","type":"quantitative","legend":null,"scale":{"zero":false,"domain":[10,25,35,40,50],"range":[14884,31329,49284,64516,75625]}}}},
{"data":{"name":"bulles"},"mark":{"type":"circle","stroke":"#FFFFFF","strokeWidth":4,"opacity":1},"encoding":{"text":{"value":""},"size":{"field":"pct","type":"quantitative","legend":null,"scale":{"zero":false,"domain":[10,25,35,40,50],"range":[14884,31329,49284,64516,75625]}},"color":{"field":"serie","type":"nominal","legend":null,"scale":{"domain":["PO","PB","Vacants"],"range":["#7030A0","#C55A11","#00B0F0"]}}}},
{"data":{"name":"texteNormal"},"transform":[{"filter":"datum.n==='c1'"}],"mark":{"type":"text","align":"left","baseline":"alphabetic","font":"Lato","fontSize":20.5}},
{"data":{"name":"texteNormal"},"transform":[{"filter":"datum.n==='c2'"}],"mark":{"type":"text","align":"left","baseline":"alphabetic","font":"Lato","fontSize":18}},
{"data":{"name":"texteNormal"},"transform":[{"filter":"datum.n==='c3a'"}],"mark":{"type":"text","align":"left","baseline":"alphabetic","font":"Lato","fontSize":10}},
{"data":{"name":"texteNormal"},"transform":[{"filter":"datum.n==='c4'"}],"mark":{"type":"text","align":"left","baseline":"alphabetic","font":"Lato","fontSize":18}},
{"data":{"name":"texteNormal"},"transform":[{"filter":"datum.n==='c5'"}],"mark":{"type":"text","align":"left","baseline":"alphabetic","font":"Lato","fontSize":23.5}},
{"data":{"name":"texteGras"},"transform":[{"filter":"datum.n==='g20'"}],"mark":{"type":"text","align":"left","baseline":"alphabetic","font":"Lato","fontWeight":"bold","fontSize":20},"encoding":{"color":{"value":"#FFFFFF"}}},
{"data":{"name":"texteGras"},"transform":[{"filter":"datum.n==='g24'"}],"mark":{"type":"text","align":"left","baseline":"alphabetic","font":"Lato","fontWeight":"bold","fontSize":24},"encoding":{"color":{"value":"#FFFFFF"}}},
{"data":{"name":"texteGras"},"transform":[{"filter":"datum.n==='g26'"}],"mark":{"type":"text","align":"left","baseline":"alphabetic","font":"Lato","fontWeight":"bold","fontSize":26},"encoding":{"color":{"value":"#FFFFFF"}}},
{"data":{"name":"texteGras"},"transform":[{"filter":"datum.n==='g28'"}],"mark":{"type":"text","align":"left","baseline":"alphabetic","font":"Lato","fontWeight":"bold","fontSize":29},"encoding":{"color":{"value":"#FFFFFF"}}},
{"data":{"name":"texteGras"},"transform":[{"filter":"datum.n==='g32'"}],"mark":{"type":"text","align":"left","baseline":"alphabetic","font":"Lato","fontWeight":"bold","fontSize":32},"encoding":{"color":{"value":"#FFFFFF"}}},
{"data":{"name":"texteGras"},"transform":[{"filter":"datum.n==='g35'"}],"mark":{"type":"text","align":"left","baseline":"alphabetic","font":"Lato","fontWeight":"bold","fontSize":35},"encoding":{"color":{"value":"#FFFFFF"}}},
{"data":{"name":"texteGras"},"transform":[{"filter":"datum.n==='g39'"}],"mark":{"type":"text","align":"left","baseline":"alphabetic","font":"Lato","fontWeight":"bold","fontSize":39},"encoding":{"color":{"value":"#FFFFFF"}}},
{"data":{"name":"titre"},"mark":{"type":"text","align":"left","baseline":"alphabetic","font":"Inter","fontWeight":300,"fontSize":45.7},"encoding":{"color":{"value":"#000000"}}},
{"data":{"name":"titreRose"},"mark":{"type":"text","align":"left","baseline":"alphabetic","font":"Lato","fontWeight":"bold","fontSize":49},"encoding":{"color":{"value":"#EC3F7E"}}},
{"data":{"name":"source"},"mark":{"type":"text","align":"left","baseline":"alphabetic","font":"Roboto","fontSize":30},"encoding":{"color":{"value":"#000000"}}},
{"data":{"name":"logo"},"mark":{"type":"point","shape":"circle","size":9409,"filled":false,"strokeWidth":1,"opacity":1},"encoding":{"color":{"value":"#444444"},"text":{"value":""}}},
{"data":{"name":"logo"},"mark":{"type":"point","filled":true,"size":5476,"opacity":1,"strokeWidth":0,"shape":"M-1,-.39 C-.75,-.35 -.55,-.15 -.53,.39 C-.85,.39 -1,.2 -1,-.39 Z M-.01,-.39 C-.26,-.35 -.46,-.15 -.48,.39 C-.16,.39 -.01,.2 -.01,-.39 Z M.03,-.39 C.28,-.35 .48,-.15 .5,.39 C.18,.39 .03,.2 .03,-.39 Z M1,-.39 C.75,-.35 .57,-.15 .55,.39 C.85,.39 1,.2 1,-.39 Z"},"encoding":{"color":{"value":"#231F20"},"text":{"value":""}}}
],
"resolve":{"scale":{"size":"independent","color":"independent"}},
"config":{"view":{"stroke":null}}}
